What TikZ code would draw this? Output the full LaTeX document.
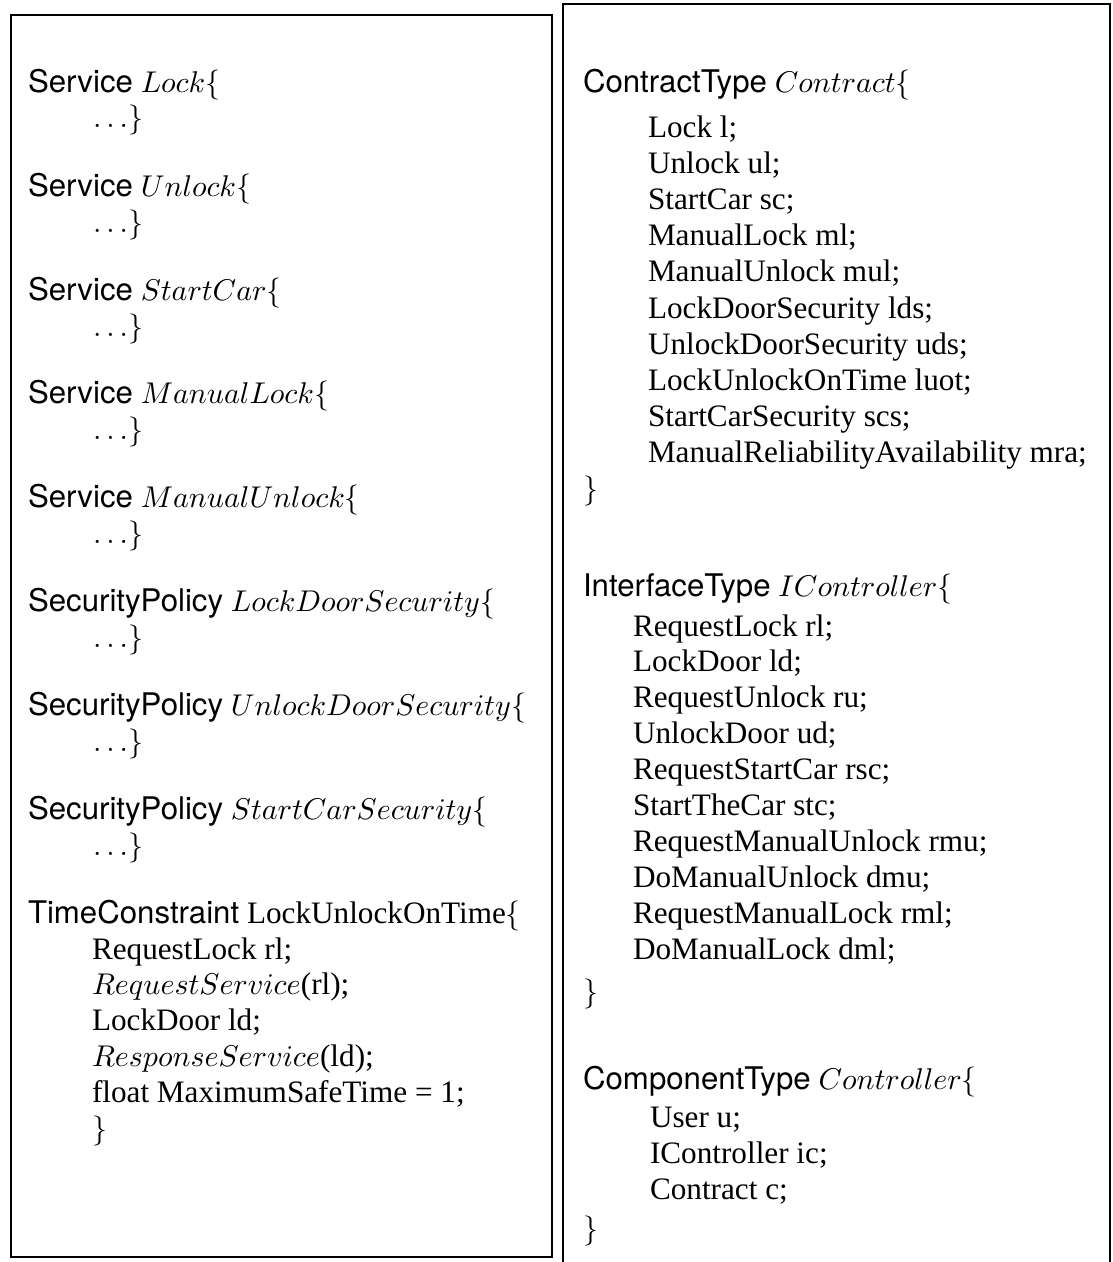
\documentclass[tikz,border=0pt]{standalone}
\usepackage{fontspec}
\setmainfont{Liberation Serif}
\setsansfont{TeX Gyre Heros}
\tikzset{
  ln/.style={anchor=base west, inner sep=0pt, outer sep=0pt, font=\fontsize{10.4}{12.5}\selectfont},
  frame/.style={line width=0.6pt, black}
}
\begin{document}
\begin{tikzpicture}[x=0.3333pt,y=-0.3333pt]
\useasboundingbox (0,0) rectangle (1113,1262);
% frames
\draw[frame] (11,15) rectangle (552,1257);
\draw[frame] (563,1262) -- (563,4) -- (1110,4) -- (1110,1262);

% ---- left column ----
\node[ln] (h1) at (28,92)  {\textsf{Service} $Lock\{$};
\node[ln] (d1) at (93,127) {$\ldots\}$};
\node[ln] (h2) at (28,196) {\textsf{Service} $Unlock\{$};
\node[ln] (d2) at (93,232) {$\ldots\}$};
\node[ln] (h3) at (28,300) {\textsf{Service} $StartCar\{$};
\node[ln] (d3) at (93,336) {$\ldots\}$};
\node[ln] (h4) at (28,403) {\textsf{Service} $ManualLock\{$};
\node[ln] (d4) at (93,439) {$\ldots\}$};
\node[ln] (h5) at (28,507) {\textsf{Service} $ManualUnlock\{$};
\node[ln] (d5) at (93,543) {$\ldots\}$};
\node[ln] (h6) at (28,611) {\textsf{SecurityPolicy} $LockDoorSecurity\{$};
\node[ln] (d6) at (93,647) {$\ldots\}$};
\node[ln] (h7) at (28,715) {\textsf{SecurityPolicy} $UnlockDoorSecurity\{$};
\node[ln] (d7) at (93,751) {$\ldots\}$};
\node[ln] (h8) at (28,819) {\textsf{SecurityPolicy} $StartCarSecurity\{$};
\node[ln] (d8) at (93,855) {$\ldots\}$};
\node[ln] (h9) at (28,923) {\textsf{TimeConstraint} LockUnlockOnTime$\{$};
\node[ln] (t1) at (92,959)  {RequestLock rl;};
\node[ln] (t2) at (92,994)  {$RequestService$(rl);};
\node[ln] (t3) at (92,1030) {LockDoor ld;};
\node[ln] (t4) at (92,1066) {$ResponseService$(ld);};
\node[ln] (t5) at (92,1102) {float MaximumSafeTime = 1;};
\node[ln] (t6) at (92,1138) {$\}$};

% ---- right column ----
\node[ln] (ct) at (583,92) {\textsf{ContractType} $Contract\{$};
\foreach \txt [count=\i] in {Lock l;, Unlock ul;, StartCar sc;, ManualLock ml;, ManualUnlock mul;,
  LockDoorSecurity lds;, UnlockDoorSecurity uds;, LockUnlockOnTime luot;, StartCarSecurity scs;,
  ManualReliabilityAvailability mra;}
  \node[ln] (c\i) at (648,{137+36.2*(\i-1)}) {\txt};
\node[ln] (ce) at (583,498) {$\}$};

\node[ln] (it) at (583,596) {\textsf{InterfaceType} $IController\{$};
\foreach \txt [count=\i] in {RequestLock rl;, LockDoor ld;, RequestUnlock ru;, UnlockDoor ud;,
  RequestStartCar rsc;, StartTheCar stc;, RequestManualUnlock rmu;, DoManualUnlock dmu;,
  RequestManualLock rml;, DoManualLock dml;}
  \node[ln] (i\i) at (633,{636+35.9*(\i-1)}) {\txt};
\node[ln] (ie) at (583,1001) {$\}$};

\node[ln] (pt) at (583,1089) {\textsf{ComponentType} $Controller\{$};
\node[ln] (p1) at (650,1127) {User u;};
\node[ln] (p2) at (650,1163) {IController ic;};
\node[ln] (p3) at (650,1199) {Contract c;};
\node[ln] (pe) at (583,1238) {$\}$};
\end{tikzpicture}
\end{document}
